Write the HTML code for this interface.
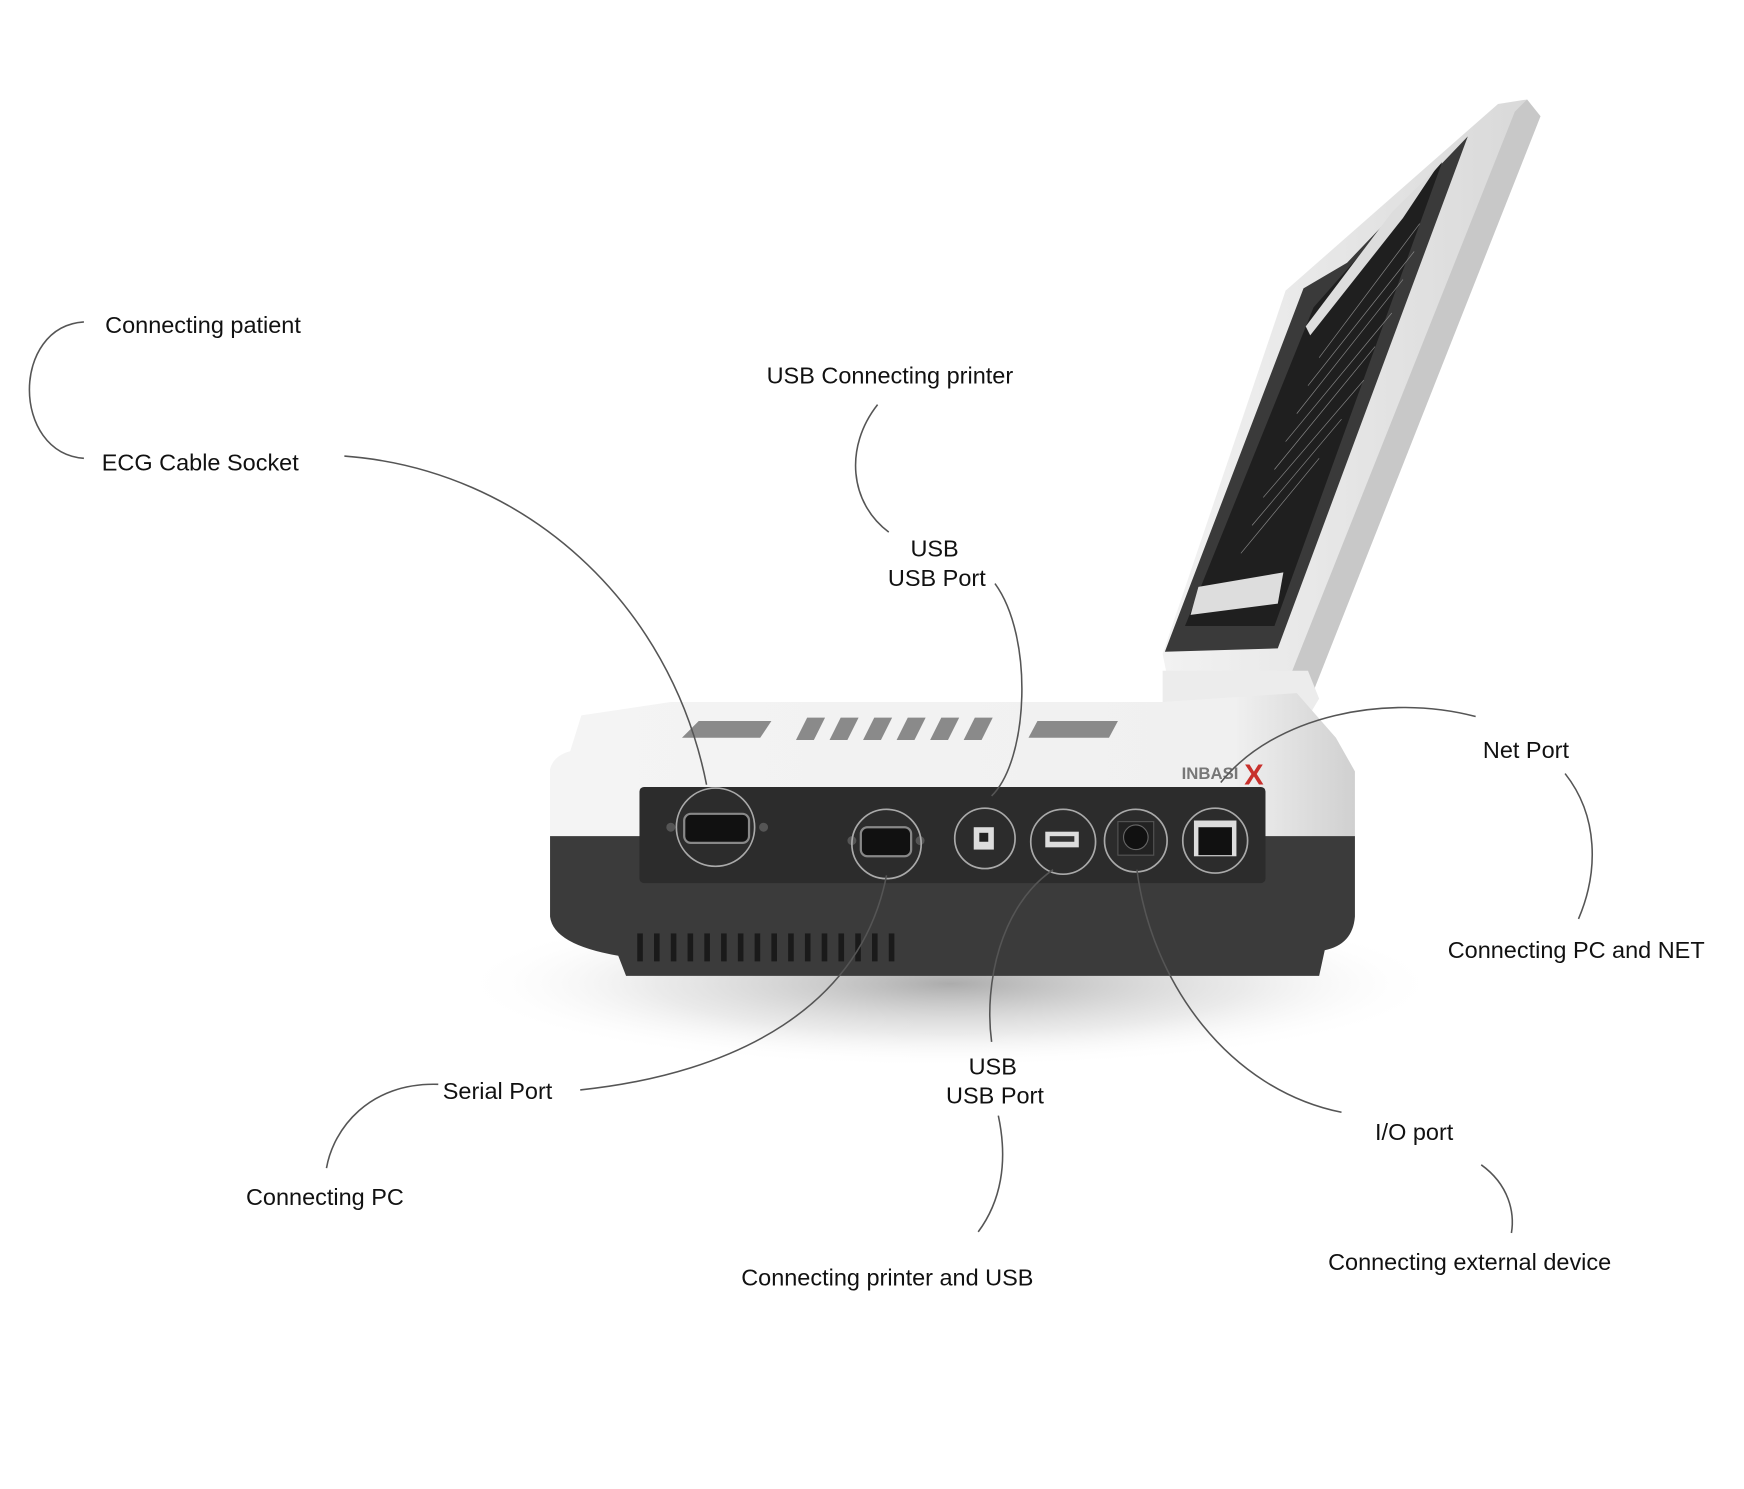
<!DOCTYPE html>
<html><head><meta charset="utf-8"><style>
html,body{margin:0;padding:0;background:#fff;}
svg{display:block;}
text{font-family:"Liberation Sans","DejaVu Sans",sans-serif;font-size:21px;fill:#111;}
</style></head><body>
<svg width="1744" height="1489" viewBox="0 0 1560 1332" xmlns="http://www.w3.org/2000/svg">
<defs>
<radialGradient id="sh" cx="0.5" cy="0.5" r="0.5">
<stop offset="0" stop-color="#888" stop-opacity="0.7"/>
<stop offset="0.6" stop-color="#bbb" stop-opacity="0.3"/>
<stop offset="1" stop-color="#fff" stop-opacity="0"/>
</radialGradient>
<linearGradient id="lid" x1="0" y1="0" x2="1" y2="0">
<stop offset="0" stop-color="#f2f2f2"/><stop offset="1" stop-color="#d8d8d8"/>
</linearGradient>
<linearGradient id="body" x1="0" y1="0" x2="1" y2="0">
<stop offset="0" stop-color="#f4f4f4"/><stop offset="0.85" stop-color="#f0f0f0"/><stop offset="1" stop-color="#d0d0d0"/>
</linearGradient>
</defs>
<ellipse cx="850" cy="880" rx="440" ry="75" fill="url(#sh)"/>
<!-- lid -->
<polygon points="1340,93 1366,89 1378,104 1175,618 1045,610 1040,585 1150,260" fill="url(#lid)"/>
<polygon points="1366,89 1378,104 1175,618 1150,615 1355,100" fill="#c8c8c8"/>
<polygon points="1313,122 1205,235 1166,258 1042,583 1143,580" fill="#3a3a3a"/>
<polygon points="1290,145 1175,275 1060,560 1140,560" fill="#1f1f1f"/>
<polygon points="1285,150 1245,190 1168,292 1172,300 1255,195" fill="#ddd"/>
<polygon points="1072,525 1148,512 1143,540 1065,550" fill="#ddd"/>
<g stroke="#888" stroke-width="0.6" fill="none">
<line x1="1180" y1="320" x2="1270" y2="200"/><line x1="1170" y1="345" x2="1265" y2="225"/>
<line x1="1160" y1="370" x2="1255" y2="250"/><line x1="1150" y1="395" x2="1245" y2="280"/>
<line x1="1140" y1="420" x2="1230" y2="310"/><line x1="1130" y1="445" x2="1220" y2="340"/>
<line x1="1120" y1="470" x2="1200" y2="375"/><line x1="1110" y1="495" x2="1180" y2="410"/>
</g>
<path d="M1040,600 L1170,600 L1180,625 L1165,650 L1040,650 Z" fill="#ececec"/>
<polygon points="1045,632 1058,637 1045,640" fill="#111"/>
<polygon points="1085,642 1100,647 1085,650" fill="#111"/>
<!-- body top -->
<path d="M520,640 L600,628 L1040,628 L1160,620 L1195,660 L1212,690 L1212,760 L492,760 L492,688 Q495,676 510,672 Z" fill="url(#body)"/>
<g fill="#8a8a8a">
<polygon points="610,660 625,645 690,645 680,660"/>
<polygon points="712,662 722,642 738,642 728,662"/><polygon points="742,662 752,642 768,642 758,662"/>
<polygon points="772,662 782,642 798,642 788,662"/><polygon points="802,662 812,642 828,642 818,662"/>
<polygon points="832,662 842,642 858,642 848,662"/><polygon points="862,662 872,642 888,642 878,662"/>
<polygon points="920,660 928,645 1000,645 992,660"/>
</g>
<path d="M492,748 L1212,748 L1212,820 Q1210,845 1185,850 L1180,873 L560,873 L553,855 Q495,845 492,820 Z" fill="#3b3b3b"/>
<rect x="572" y="704" width="560" height="86" rx="4" fill="#2c2c2c"/>
<g fill="#1a1a1a">
<rect x="570" y="835" width="5" height="25"/><rect x="585" y="835" width="5" height="25"/><rect x="600" y="835" width="5" height="25"/>
<rect x="615" y="835" width="5" height="25"/><rect x="630" y="835" width="5" height="25"/><rect x="645" y="835" width="5" height="25"/>
<rect x="660" y="835" width="5" height="25"/><rect x="675" y="835" width="5" height="25"/><rect x="690" y="835" width="5" height="25"/>
<rect x="705" y="835" width="5" height="25"/><rect x="720" y="835" width="5" height="25"/><rect x="735" y="835" width="5" height="25"/>
<rect x="750" y="835" width="5" height="25"/><rect x="765" y="835" width="5" height="25"/><rect x="780" y="835" width="5" height="25"/>
<rect x="795" y="835" width="5" height="25"/>
</g>
<text x="1057" y="697" style="font-size:15px;font-weight:bold;fill:#777">INBASI</text>
<text x="1113" y="702" style="font-size:26px;font-weight:bold;fill:#c8302c">X</text>
<rect x="612" y="728" width="58" height="26" rx="6" fill="#111" stroke="#888" stroke-width="2"/>
<circle cx="600" cy="740" r="4" fill="#555"/><circle cx="683" cy="740" r="4" fill="#555"/>
<rect x="770" y="740" width="45" height="26" rx="6" fill="#111" stroke="#888" stroke-width="2"/>
<circle cx="762" cy="752" r="4" fill="#555"/><circle cx="823" cy="752" r="4" fill="#555"/>
<rect x="871" y="740" width="18" height="20" fill="#ddd"/><rect x="876" y="745" width="8" height="8" fill="#222"/>
<rect x="935" y="744" width="30" height="14" fill="#ddd"/><rect x="939" y="748" width="22" height="5" fill="#333"/>
<rect x="1000" y="735" width="32" height="30" fill="#222" stroke="#555"/><circle cx="1016" cy="749" r="11" fill="#111" stroke="#666"/>
<rect x="1068" y="734" width="38" height="32" fill="#ddd"/><rect x="1072" y="740" width="30" height="25" fill="#111"/>
<g fill="none" stroke="#aaa" stroke-width="1.5">
<circle cx="640" cy="740" r="35"/><circle cx="793" cy="755" r="31"/>
<circle cx="881" cy="750" r="27"/><circle cx="951" cy="753" r="29"/>
<circle cx="1016" cy="752" r="28"/><circle cx="1087" cy="752" r="29"/>
</g>
<g fill="none" stroke="#555" stroke-width="1.4">
<path d="M75,288 C10,292 10,405 75,410"/>
<path d="M308,408 C470,420 600,540 632,702"/>
<path d="M785,362 C755,400 760,450 795,476"/>
<path d="M890,522 C925,570 920,680 887,712"/>
<path d="M1320,641 C1240,620 1140,640 1092,700"/>
<path d="M1400,692 C1430,730 1430,780 1412,822"/>
<path d="M519,975 C660,960 770,900 793,783"/>
<path d="M392,970 C330,968 298,1010 292,1045"/>
<path d="M942,778 C895,810 880,880 887,932"/>
<path d="M893,998 C902,1040 895,1075 875,1102"/>
<path d="M1017,778 C1030,880 1100,975 1200,995"/>
<path d="M1325,1042 C1350,1060 1355,1085 1352,1103"/>
</g>
<text x="94" y="298">Connecting patient</text>
<text x="91" y="421">ECG Cable Socket</text>
<text x="796" y="343" text-anchor="middle">USB Connecting printer</text>
<text x="836" y="498" text-anchor="middle">USB</text>
<text x="838" y="524" text-anchor="middle">USB Port</text>
<text x="1365" y="678" text-anchor="middle">Net Port</text>
<text x="1295" y="857">Connecting PC and NET</text>
<text x="396" y="983">Serial Port</text>
<text x="220" y="1078">Connecting PC</text>
<text x="888" y="961" text-anchor="middle">USB</text>
<text x="890" y="987" text-anchor="middle">USB Port</text>
<text x="663" y="1150">Connecting printer and USB</text>
<text x="1230" y="1020">I/O port</text>
<text x="1188" y="1136">Connecting external device</text>
</svg>
</body></html>
